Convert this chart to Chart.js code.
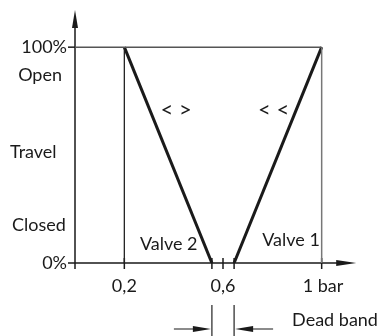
<!DOCTYPE html>
<html>
<head>
<meta charset="utf-8">
<script src="https://cdn.jsdelivr.net/npm/chart.js@4"></script>
<style>
  html, body { margin: 0; padding: 0; background: #fff; }
  #wrap { width: 382px; height: 336px; }
</style>
</head>
<body>
<div id="wrap"><canvas id="chart"></canvas></div>
<script>
// split range: travel (%) against signal pressure (bar)
var valve2Pressure = [0.2, 0.555];
var valve2Travel = [100, 0];
var valve1Pressure = [0.645, 1];
var valve1Travel = [0, 100];
var deadBand = [0.555, 0.645];
var xTickValues = [0.2, 0.6, 1];
var xTickLabels = ['0,2', '0,6', '1 bar'];
var yTickValues = [0, 100];
var yTickLabels = ['0%', '100%'];

var FONT = 'Lato, "DejaVu Sans", sans-serif';
var INK = '#1a1a1a';

function pts(xs, ys) {
  return xs.map(function (x, i) { return { x: x, y: ys[i] }; });
}

function arrowHead(ctx, tipX, tipY, dx, dy, len, half) {
  // dx/dy = unit direction the arrow points to
  var bx = tipX - dx * len, by = tipY - dy * len;
  ctx.beginPath();
  ctx.moveTo(tipX, tipY);
  ctx.lineTo(bx - dy * half, by + dx * half);
  ctx.lineTo(bx + dy * half, by - dx * half);
  ctx.closePath();
  ctx.fill();
}

var diagram = {
  id: 'diagram',
  beforeDatasetsDraw: function (chart) {
    var ctx = chart.ctx, xs = chart.scales.x, ys = chart.scales.y;
    var x0 = xs.getPixelForValue(0), y0 = ys.getPixelForValue(0);
    var y100 = ys.getPixelForValue(100);
    ctx.save();
    ctx.strokeStyle = INK;
    ctx.fillStyle = INK;
    ctx.lineWidth = 1.5;

    // axes
    ctx.beginPath();
    ctx.moveTo(x0, y0 + 6);
    ctx.lineTo(x0, 24);
    ctx.moveTo(x0 - 7, y0);
    ctx.lineTo(xs.getPixelForValue(1.14) - 16, y0);
    ctx.stroke();
    arrowHead(ctx, x0, 10, 0, -1, 18, 3);
    arrowHead(ctx, xs.getPixelForValue(1.14), y0, 1, 0, 20, 3);

    // 100% tick
    ctx.beginPath();
    ctx.moveTo(x0 - 7, y100);
    ctx.lineTo(x0, y100);
    ctx.stroke();

    // x ticks
    xTickValues.concat(deadBand).forEach(function (v) {
      var px = xs.getPixelForValue(v);
      ctx.beginPath();
      ctx.moveTo(px, y0 - 5);
      ctx.lineTo(px, y0 + 6);
      ctx.stroke();
    });

    // dead band marker
    var dl = xs.getPixelForValue(deadBand[0]), dr = xs.getPixelForValue(deadBand[1]);
    var ay = y0 + 66;
    ctx.lineWidth = 1.3;
    ctx.strokeStyle = '#333';
    ctx.beginPath();
    ctx.moveTo(dl, y0 + 42); ctx.lineTo(dl, 336);
    ctx.moveTo(dr, y0 + 42); ctx.lineTo(dr, 336);
    ctx.stroke();
    ctx.strokeStyle = '#666';
    ctx.beginPath();
    ctx.moveTo(dl - 38, ay); ctx.lineTo(dl - 16, ay);
    ctx.moveTo(dr + 16, ay); ctx.lineTo(dr + 39, ay);
    ctx.stroke();
    arrowHead(ctx, dl - 1, ay, 1, 0, 18, 3);
    arrowHead(ctx, dr + 1, ay, -1, 0, 18, 3);

    // text
    ctx.fillStyle = INK;
    ctx.font = '18px ' + FONT;
    ctx.textBaseline = 'middle';
    ctx.textAlign = 'right';
    yTickValues.forEach(function (v, i) {
      ctx.fillText(yTickLabels[i], x0 - 8, ys.getPixelForValue(v));
    });
    ctx.fillText('Open', x0 - 13, ys.getPixelForValue(87));
    ctx.textAlign = 'left';
    ctx.fillText('Travel', x0 - 65, ys.getPixelForValue(51.5));
    ctx.fillText('Closed', x0 - 63, ys.getPixelForValue(17.5));
    xTickValues.forEach(function (v, i) {
      var last = i === xTickValues.length - 1;
      ctx.textAlign = last ? 'left' : 'center';
      var px = xs.getPixelForValue(v);
      ctx.fillText(xTickLabels[i], last ? px - 19 : px, y0 + 23);
    });
    ctx.textAlign = 'center';
    ctx.fillText('Valve 2', xs.getPixelForValue(0.38), ys.getPixelForValue(8.8));
    ctx.fillText('Valve 1', xs.getPixelForValue(0.876), ys.getPixelForValue(10.6));
    ctx.textAlign = 'left';
    ctx.fillText('Dead band', dr + 58, ay - 9);
    // direction of action marks
    ctx.font = '22px ' + FONT;
    ctx.textAlign = 'center';
    ctx.fillText('< >', xs.getPixelForValue(0.41), ys.getPixelForValue(71));
    ctx.fillText('< <', xs.getPixelForValue(0.805), ys.getPixelForValue(71));
    ctx.restore();
  }
};

new Chart(document.getElementById('chart'), {
  type: 'scatter',
  data: {
    datasets: [
      { // 100% travel reference
        data: pts([0, valve1Pressure[1]], [100, 100]),
        borderColor: '#555', borderWidth: 1.5
      },
      {
        data: pts([valve2Pressure[0], valve2Pressure[0]], [0, 100]),
        borderColor: '#222', borderWidth: 1.3
      },
      {
        data: pts([valve1Pressure[1], valve1Pressure[1]], [0, 100]),
        borderColor: '#777', borderWidth: 1.5
      },
      {
        label: 'Valve 2',
        data: pts(valve2Pressure, valve2Travel),
        borderColor: '#1a1a1a', borderWidth: 3
      },
      {
        label: 'Valve 1',
        data: pts(valve1Pressure, valve1Travel),
        borderColor: '#1a1a1a', borderWidth: 3
      }
    ]
  },
  options: {
    responsive: true,
    maintainAspectRatio: false,
    animation: false,
    showLine: true,
    elements: { point: { radius: 0 }, line: { tension: 0 } },
    layout: { padding: { left: 75, right: 11, top: 4, bottom: 73 } },
    scales: {
      x: { type: 'linear', min: 0, max: 1.2, display: false },
      y: { min: 0, max: 120, display: false }
    },
    plugins: { legend: { display: false }, tooltip: { enabled: false } }
  },
  plugins: [diagram]
});
</script>
</body>
</html>
